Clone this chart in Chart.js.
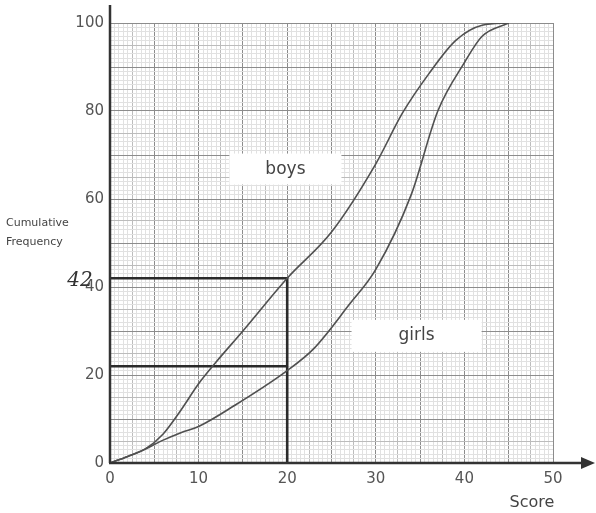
<!DOCTYPE html>
<html>
<head>
<meta charset="utf-8">
<script src="https://cdn.jsdelivr.net/npm/chart.js@4.4.1/dist/chart.umd.min.js"></script>
<style>
  html, body { margin: 0; padding: 0; background: #ffffff; }
  #wrap { width: 596px; height: 513px; position: relative; }
</style>
</head>
<body>
<div id="wrap"><canvas id="c" width="596" height="513"></canvas></div>
<script>
// ---- data ----
const boysScore   = [0, 2, 4, 6, 8, 10, 12, 15, 20, 25, 30, 33, 36, 39, 42, 45];
const boysCum     = [0, 1.5, 3.2, 6.6, 12, 18, 23, 30, 42, 52.5, 68, 79.5, 88.5, 96, 99.5, 100];
const girlsScore  = [0, 2, 4, 6, 8, 10, 14, 20, 23, 27, 30, 34, 37, 40, 42, 45];
const girlsCum    = [0, 1.5, 3.2, 5.2, 6.9, 8.3, 13, 21, 26, 36, 44, 61, 80, 91, 97, 100];
const readBoysX   = [0, 20, 20];
const readBoysY   = [42, 42, 0];
const readGirlsX  = [0, 20];
const readGirlsY  = [22, 22];
const xTickLabels = [0, 10, 20, 30, 40, 50];
const yTickLabels = [0, 20, 40, 60, 80, 100];
const seriesNames = ['boys', 'girls'];
const handNote    = '42';

const pts = (xs, ys) => xs.map((x, i) => ({ x: x, y: ys[i] }));

const FONT = '"DejaVu Sans", "Noto Sans", sans-serif';
const MAJOR = '#8c8c8c', MID = '#bcbcbc', FINE = '#e1e1e1';

function gridColor(v, majorStep, midStep) {
  if (Math.abs(v / majorStep - Math.round(v / majorStep)) < 1e-6) return MAJOR;
  if (Math.abs(v / midStep - Math.round(v / midStep)) < 1e-6) return MID;
  return FINE;
}

const decor = {
  id: 'decor',
  afterDraw(chart) {
    const ctx = chart.ctx;
    const xs = chart.scales.x, ys = chart.scales.y;
    const x0 = xs.getPixelForValue(0), y0 = ys.getPixelForValue(0);
    ctx.save();
    // axes
    ctx.strokeStyle = '#333';
    ctx.lineWidth = 2.5;
    ctx.beginPath();
    ctx.moveTo(x0, y0); ctx.lineTo(x0, 5);
    ctx.moveTo(x0 - 1, y0); ctx.lineTo(585, y0);
    ctx.stroke();
    // arrowhead
    ctx.fillStyle = '#333';
    ctx.beginPath();
    ctx.moveTo(595, y0); ctx.lineTo(581, y0 - 6); ctx.lineTo(581, y0 + 6); ctx.closePath();
    ctx.fill();

    // labels in white boxes
    function boxLabel(text, vx, vy, w, h) {
      const cx = xs.getPixelForValue(vx), cy = ys.getPixelForValue(vy);
      ctx.fillStyle = '#ffffff';
      ctx.fillRect(cx - w / 2, cy - h / 2, w, h);
      ctx.fillStyle = '#444';
      ctx.font = '17px ' + FONT;
      ctx.textAlign = 'center';
      ctx.textBaseline = 'middle';
      ctx.fillText(text, cx, cy);
    }
    boxLabel(seriesNames[0], 19.8, 66.8, 112, 31);
    boxLabel(seriesNames[1], 34.6, 28.9, 130, 32);

    // axis titles
    ctx.fillStyle = '#444';
    ctx.font = '11px ' + FONT;
    ctx.textAlign = 'left';
    ctx.textBaseline = 'middle';
    ctx.fillText('Cumulative', 6, 223);
    ctx.fillText('Frequency', 6, 242);
    ctx.font = '16px ' + FONT;
    ctx.textAlign = 'center';
    ctx.fillText('Score', 532, 503);

    // handwritten note
    ctx.fillStyle = '#333';
    ctx.font = 'italic 20px "DejaVu Serif", serif';
    ctx.textAlign = 'center';
    ctx.fillText(handNote, 80, 281);
    ctx.restore();
  }
};

new Chart(document.getElementById('c'), {
  type: 'line',
  data: {
    datasets: [
      { label: seriesNames[0], data: pts(boysScore, boysCum), borderColor: '#505050', borderWidth: 1.6,
        pointRadius: 0, cubicInterpolationMode: 'monotone', fill: false },
      { label: seriesNames[1], data: pts(girlsScore, girlsCum), borderColor: '#505050', borderWidth: 1.6,
        pointRadius: 0, cubicInterpolationMode: 'monotone', fill: false },
      { label: 'read boys', data: pts(readBoysX, readBoysY), borderColor: '#2b2b2b', borderWidth: 2.6,
        pointRadius: 0, tension: 0, fill: false },
      { label: 'read girls', data: pts(readGirlsX, readGirlsY), borderColor: '#2b2b2b', borderWidth: 2.6,
        pointRadius: 0, tension: 0, fill: false }
    ]
  },
  options: {
    responsive: false,
    animation: false,
    events: [],
    layout: { padding: { top: 23, right: 43, left: 0, bottom: 0 } },
    plugins: { legend: { display: false }, tooltip: { enabled: false }, title: { display: false } },
    scales: {
      x: {
        type: 'linear', min: 0, max: 50,
        afterFit: s => { s.height = 50; },
        afterBuildTicks: s => {
          const t = [];
          for (let i = 0; i <= 100; i++) t.push({ value: i * 0.5 });
          s.ticks = t;
        },
        border: { display: false },
        grid: {
          drawTicks: false, tickLength: 0, lineWidth: 1,
          color: c => gridColor(c.tick.value, 5, 2.5)
        },
        ticks: {
          autoSkip: false, maxRotation: 0, padding: 7,
          color: '#555', font: { family: FONT, size: 15 },
          callback: v => xTickLabels.includes(v) ? String(v) : ''
        }
      },
      y: {
        type: 'linear', min: 0, max: 100,
        afterFit: s => { s.width = 110; },
        afterBuildTicks: s => {
          const t = [];
          for (let i = 0; i <= 100; i++) t.push({ value: i });
          s.ticks = t;
        },
        border: { display: false },
        grid: {
          drawTicks: false, tickLength: 0, lineWidth: 1,
          color: c => gridColor(c.tick.value, 10, 5)
        },
        ticks: {
          autoSkip: false, padding: 6,
          color: '#555', font: { family: FONT, size: 15 },
          callback: v => yTickLabels.includes(v) ? String(v) : ''
        }
      }
    }
  },
  plugins: [decor]
});
</script>
</body>
</html>
